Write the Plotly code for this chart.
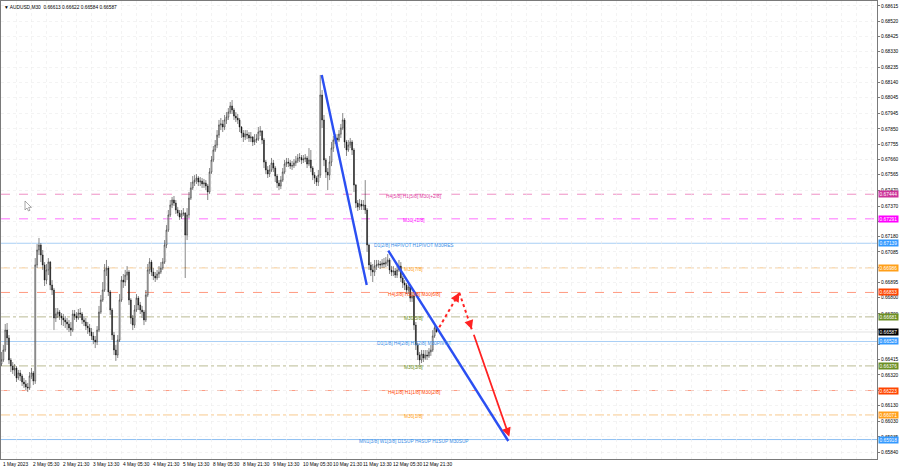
import plotly.graph_objects as go

# ---------------- data (H1 resolution, prices) ----------------
opens = [
0.66388,0.66413,0.66475,0.66599,0.66550,0.66413,0.66375,0.66351,0.66363,0.66301,
0.66332,0.66313,0.66276,0.66264,0.66245,0.66239,0.66313,0.66332,0.66282,0.67004,
0.67097,0.67128,0.67066,0.67004,0.66910,0.66973,0.67022,0.66879,0.66848,0.66674,
0.66699,0.66711,0.66686,0.66674,0.66662,0.66649,0.66637,0.66612,0.66599,0.66699,
0.66686,0.66674,0.66705,0.66699,0.66662,0.66649,0.66624,0.66612,0.66587,0.66562,
0.66537,0.66525,0.66599,0.66711,0.66786,0.66848,0.66973,0.66985,0.66836,0.66724,
0.66568,0.66475,0.66444,0.66537,0.66786,0.66910,0.66898,0.66941,0.66960,0.66786,
0.66674,0.66630,0.66724,0.66798,0.66755,0.66724,0.66711,0.66662,0.66817,0.66973,
0.67022,0.66960,0.66935,0.66923,0.66948,0.66960,0.66985,0.67022,0.67128,0.67221,
0.67315,0.67377,0.67408,0.67389,0.67346,0.67327,0.67302,0.67321,0.67327,0.67190,
0.67315,0.67420,0.67483,0.67520,0.67532,0.67545,0.67520,0.67526,0.67508,0.67514,
0.67495,0.67458,0.67582,0.67657,0.67719,0.67750,0.67812,0.67875,0.67881,0.67862,
0.67906,0.67924,0.67955,0.67993,0.67968,0.67930,0.67918,0.67906,0.67862,0.67825,
0.67800,0.67818,0.67812,0.67794,0.67800,0.67769,0.67781,0.67787,0.67831,0.67837,
0.67781,0.67644,0.67595,0.67570,0.67595,0.67638,0.67607,0.67557,0.67514,0.67495,
0.67532,0.67582,0.67632,0.67644,0.67638,0.67619,0.67622,0.67638,0.67651,0.67669,
0.67672,0.67657,0.67663,0.67669,0.67632,0.67657,0.67607,0.67563,0.67545,0.67520,
0.67563,0.68061,0.67906,0.67657,0.67582,0.67563,0.67644,0.67731,0.67781,0.67794,
0.67781,0.67818,0.67856,0.67906,0.67769,0.67719,0.67750,0.67769,0.67719,0.67501,
0.67389,0.67364,0.67383,0.67371,0.67377,0.67346,0.67128,0.67004,0.66973,0.66960,
0.66997,0.67004,0.67010,0.67004,0.67016,0.67010,0.67022,0.67035,0.66973,0.66960,
0.66966,0.66941,0.66973,0.66997,0.66923,0.66892,0.66879,0.66848,0.66867,0.66798,
0.66811,0.66630,0.66506,0.66444,0.66413,0.66450,0.66425,0.66444,0.66438,0.66463,
0.66475,0.66562,0.66613]

highs = [
0.66463,0.66506,0.66637,0.66643,0.66568,0.66425,0.66400,0.66388,0.66375,0.66351,
0.66351,0.66326,0.66301,0.66288,0.66270,0.66338,0.66363,0.66344,0.67047,0.67134,
0.67172,0.67140,0.67097,0.67022,0.67010,0.67047,0.67029,0.66910,0.66861,0.66736,
0.66736,0.66724,0.66705,0.66699,0.66686,0.66674,0.66662,0.66649,0.66724,0.66724,
0.66711,0.66730,0.66736,0.66711,0.66686,0.66674,0.66649,0.66637,0.66612,0.66587,
0.66562,0.66624,0.66749,0.66817,0.66898,0.67010,0.67035,0.66997,0.66848,0.66736,
0.66587,0.66506,0.66568,0.66823,0.66935,0.66948,0.66973,0.66997,0.66973,0.66798,
0.66693,0.66755,0.66823,0.66811,0.66774,0.66749,0.66724,0.66848,0.67010,0.67047,
0.67035,0.66985,0.66960,0.66973,0.66997,0.67022,0.67047,0.67159,0.67252,0.67346,
0.67408,0.67427,0.67433,0.67408,0.67364,0.67346,0.67346,0.67358,0.67333,0.67358,
0.67458,0.67520,0.67557,0.67563,0.67570,0.67557,0.67551,0.67545,0.67539,0.67532,
0.67508,0.67607,0.67682,0.67744,0.67781,0.67843,0.67906,0.67918,0.67906,0.67937,
0.67955,0.67980,0.68018,0.68030,0.67980,0.67955,0.67943,0.67918,0.67868,0.67843,
0.67843,0.67843,0.67831,0.67831,0.67806,0.67818,0.67818,0.67862,0.67868,0.67843,
0.67794,0.67657,0.67619,0.67626,0.67669,0.67657,0.67619,0.67570,0.67532,0.67557,
0.67607,0.67657,0.67669,0.67669,0.67657,0.67651,0.67663,0.67682,0.67694,0.67700,
0.67688,0.67688,0.67694,0.67682,0.67731,0.67719,0.67619,0.67582,0.67557,0.67595,
0.68186,0.68092,0.67937,0.67669,0.67607,0.67682,0.67769,0.67806,0.67818,0.67818,
0.67843,0.67881,0.67949,0.67918,0.67781,0.67781,0.67794,0.67781,0.67731,0.67508,
0.67408,0.67414,0.67408,0.67408,0.67532,0.67358,0.67134,0.67022,0.67010,0.67035,
0.67035,0.67035,0.67029,0.67041,0.67047,0.67053,0.67072,0.67047,0.66997,0.66997,
0.66985,0.66997,0.67035,0.67022,0.66935,0.66910,0.66892,0.66885,0.66873,0.66836,
0.66823,0.66649,0.66519,0.66463,0.66475,0.66475,0.66475,0.66475,0.66487,0.66506,
0.66599,0.66624,0.66622]

lows = [
0.66375,0.66400,0.66463,0.66506,0.66388,0.66338,0.66326,0.66313,0.66276,0.66288,
0.66282,0.66251,0.66239,0.66226,0.66214,0.66226,0.66295,0.66257,0.66264,0.66985,
0.67066,0.67022,0.66973,0.66873,0.66885,0.66941,0.66848,0.66817,0.66599,0.66649,
0.66674,0.66662,0.66630,0.66624,0.66612,0.66599,0.66587,0.66562,0.66587,0.66662,
0.66649,0.66662,0.66674,0.66637,0.66624,0.66599,0.66575,0.66562,0.66537,0.66512,
0.66487,0.66506,0.66587,0.66699,0.66774,0.66836,0.66935,0.66811,0.66693,0.66537,
0.66444,0.66407,0.66425,0.66525,0.66774,0.66861,0.66873,0.66910,0.66755,0.66637,
0.66599,0.66612,0.66711,0.66724,0.66699,0.66674,0.66630,0.66649,0.66805,0.66948,
0.66935,0.66910,0.66898,0.66910,0.66923,0.66948,0.66973,0.67010,0.67109,0.67209,
0.67302,0.67358,0.67371,0.67321,0.67308,0.67284,0.67290,0.67308,0.66923,0.67159,
0.67296,0.67408,0.67470,0.67495,0.67508,0.67495,0.67495,0.67483,0.67483,0.67470,
0.67408,0.67445,0.67570,0.67644,0.67707,0.67731,0.67794,0.67843,0.67831,0.67843,
0.67881,0.67906,0.67943,0.67943,0.67906,0.67893,0.67881,0.67831,0.67794,0.67769,
0.67781,0.67787,0.67769,0.67769,0.67744,0.67750,0.67763,0.67775,0.67806,0.67756,
0.67607,0.67570,0.67545,0.67551,0.67582,0.67582,0.67520,0.67483,0.67470,0.67476,
0.67520,0.67570,0.67613,0.67613,0.67601,0.67595,0.67607,0.67619,0.67638,0.67644,
0.67632,0.67638,0.67644,0.67607,0.67619,0.67582,0.67532,0.67508,0.67495,0.67495,
0.67545,0.67856,0.67619,0.67545,0.67470,0.67532,0.67619,0.67707,0.67756,0.67756,
0.67769,0.67794,0.67843,0.67731,0.67682,0.67707,0.67731,0.67688,0.67458,0.67358,
0.67340,0.67346,0.67346,0.67346,0.67321,0.67085,0.66973,0.66935,0.66898,0.66935,
0.66973,0.66985,0.66979,0.66985,0.66985,0.66991,0.66997,0.66948,0.66935,0.66935,
0.66923,0.66923,0.66960,0.66898,0.66861,0.66848,0.66823,0.66823,0.66774,0.66774,
0.66599,0.66475,0.66413,0.66382,0.66394,0.66400,0.66413,0.66413,0.66425,0.66438,
0.66463,0.66550,0.66584]

closes = [
0.66413,0.66475,0.66599,0.66550,0.66413,0.66375,0.66351,0.66363,0.66301,0.66332,
0.66313,0.66276,0.66264,0.66245,0.66239,0.66313,0.66332,0.66282,0.67004,0.67097,
0.67128,0.67066,0.67004,0.66910,0.66973,0.67022,0.66879,0.66848,0.66674,0.66699,
0.66711,0.66686,0.66674,0.66662,0.66649,0.66637,0.66612,0.66599,0.66699,0.66686,
0.66674,0.66705,0.66699,0.66662,0.66649,0.66624,0.66612,0.66587,0.66562,0.66537,
0.66525,0.66599,0.66711,0.66786,0.66848,0.66973,0.66985,0.66836,0.66724,0.66568,
0.66475,0.66444,0.66537,0.66786,0.66910,0.66898,0.66941,0.66960,0.66786,0.66674,
0.66630,0.66724,0.66798,0.66755,0.66724,0.66711,0.66662,0.66817,0.66973,0.67022,
0.66960,0.66935,0.66923,0.66948,0.66960,0.66985,0.67022,0.67128,0.67221,0.67315,
0.67377,0.67408,0.67389,0.67346,0.67327,0.67302,0.67321,0.67327,0.67190,0.67315,
0.67420,0.67483,0.67520,0.67532,0.67545,0.67520,0.67526,0.67508,0.67514,0.67495,
0.67458,0.67582,0.67657,0.67719,0.67750,0.67812,0.67875,0.67881,0.67862,0.67906,
0.67924,0.67955,0.67993,0.67968,0.67930,0.67918,0.67906,0.67862,0.67825,0.67800,
0.67818,0.67812,0.67794,0.67800,0.67769,0.67781,0.67787,0.67831,0.67837,0.67781,
0.67644,0.67595,0.67570,0.67595,0.67638,0.67607,0.67557,0.67514,0.67495,0.67532,
0.67582,0.67632,0.67644,0.67638,0.67619,0.67622,0.67638,0.67651,0.67669,0.67672,
0.67657,0.67663,0.67669,0.67632,0.67657,0.67607,0.67563,0.67545,0.67520,0.67563,
0.68061,0.67906,0.67657,0.67582,0.67563,0.67644,0.67731,0.67781,0.67794,0.67781,
0.67818,0.67856,0.67906,0.67769,0.67719,0.67750,0.67769,0.67719,0.67501,0.67389,
0.67364,0.67383,0.67371,0.67377,0.67346,0.67128,0.67004,0.66973,0.66960,0.66997,
0.67004,0.67010,0.67004,0.67016,0.67010,0.67022,0.67035,0.66973,0.66960,0.66966,
0.66941,0.66973,0.66997,0.66923,0.66892,0.66879,0.66848,0.66867,0.66798,0.66811,
0.66630,0.66506,0.66444,0.66413,0.66450,0.66425,0.66444,0.66438,0.66463,0.66475,
0.66562,0.66613,0.66587]

# time axis labels (M30 bar numbers)
time_tick_bars = [0, 32, 64, 96, 128, 160, 192, 224, 256, 288, 320, 352, 384, 416, 448]
time_tick_labels = ["1 May 2023", "2 May 05:30", "2 May 21:30", "3 May 13:30", "4 May 05:30",
                    "4 May 21:30", "5 May 13:30", "8 May 05:30", "8 May 21:30", "9 May 13:30",
                    "10 May 05:30", "10 May 21:30", "11 May 13:30", "12 May 05:30", "12 May 21:30"]

price_ticks = [0.65840, 0.65935, 0.66030, 0.66130, 0.66225, 0.66320, 0.66415, 0.66510, 0.66605,
               0.66700, 0.66800, 0.66895, 0.66990, 0.67085, 0.67180, 0.67275, 0.67370, 0.67470,
               0.67565, 0.67660, 0.67755, 0.67850, 0.67945, 0.68045, 0.68140, 0.68235, 0.68330,
               0.68425, 0.68520, 0.68615]
# tick labels hidden behind price boxes in the reference
hidden_ticks = [0.66225, 0.66510, 0.66605, 0.66990, 0.67275]

# Murrey levels
level_values = [0.67444, 0.67291, 0.67139, 0.66986, 0.66833, 0.66681, 0.66528, 0.66376,
                0.66223, 0.66071, 0.65918]
level_labels = ["H4[5/8] H1[5/8] M30[+2/8]", "M30[+1/8]", "D1[2/8] H4PIVOT H1PIVOT M30RES",
                "M30[7/8]", "H4[3/8] H1[3/8] M30[6/8]", "M30[5/8]", "D1[1/8] H4[2/8] H1[2/8] M30PIVOT",
                "M30[3/8]", "H4[1/8] H1[1/8] M30[2/8]", "M30[1/8]",
                "MN1[3/8] W1[3/8] D1SUP H4SUP H1SUP M30SUP"]
bid_price = 0.66587

# analyst drawings: (bar, price) pairs
trend_lines = [((342.1, 0.68186), (390.1, 0.66879)),
               ((413.1, 0.67093), (541.1, 0.65909))]
dotted_path = [(467.5, 0.66616), (488.9, 0.66831), (502.1, 0.66604)]
solid_arrow = ((503.8, 0.66579), (542.2, 0.65936))

header = "\u25bc AUDUSD,M30  0.66613 0.66622 0.66584 0.66587"

# ---------------- styles ----------------
FONT = "Liberation Sans"
FS = 4.8
lvl_text_col = ["#e0409f", "#ff00ff", "#3a8ee6", "#ff9f1a", "#ff4500", "#6b8e23", "#3a8ee6",
                "#6b8e23", "#ff4500", "#ff9f1a", "#3a8ee6"]
lvl_line_col = ["#ef8fc4", "#ff70ff", "#a9cff5", "#f8c98e", "#ff9a80", "#babb94", "#a9cff5",
                "#babb94", "#ff9a80", "#f8c98e", "#8ebff2"]
lvl_dash = ["dash", "dash", "solid", "dashdot", "dash", "dashdot", "solid", "dashdot", "dash",
            "dashdot", "solid"]
lvl_box_col = ["#cc3399", "#ff00ff", "#3399ff", "#ff9f1a", "#ff4500", "#6b8e23", "#3399ff",
               "#6b8e23", "#ff4500", "#ff9f1a", "#3399ff"]

n = len(closes)
xs = [2 * j + 0.5 for j in range(n)]

fig = go.Figure()
fig.add_trace(go.Candlestick(
    x=xs, open=opens, high=highs, low=lows, close=closes,
    increasing=dict(line=dict(color="#111111", width=0.5), fillcolor="white"),
    decreasing=dict(line=dict(color="#111111", width=0.5), fillcolor="#111111"),
    whiskerwidth=0, hoverinfo="skip", showlegend=False))

shapes = []
annotations = []
label_bar = 440.5
for v, lab, tc, lc, dsh, bc in zip(level_values, level_labels, lvl_text_col, lvl_line_col,
                                  lvl_dash, lvl_box_col):
    shapes.append(dict(type="line", xref="paper", x0=0, x1=1, yref="y", y0=v, y1=v,
                       line=dict(color=lc, width=1, dash=dsh), layer="below"))
    annotations.append(dict(x=label_bar, y=v, xref="x", yref="y", text=lab, showarrow=False,
                            xanchor="center", yanchor="middle", yshift=-2,
                            font=dict(family=FONT, size=FS, color=tc)))
    annotations.append(dict(x=1, y=v, xref="paper", yref="y", text="%.5f" % v, showarrow=False,
                            xanchor="left", yanchor="middle", xshift=1, bgcolor=bc,
                            borderpad=0.6, font=dict(family=FONT, size=FS, color="white")))
# bid line + black box
shapes.append(dict(type="line", xref="paper", x0=0, x1=1, yref="y", y0=bid_price, y1=bid_price,
                   line=dict(color="#d0d0d0", width=0.6), layer="below"))
annotations.append(dict(x=1, y=bid_price, xref="paper", yref="y", text="%.5f" % bid_price,
                        showarrow=False, xanchor="left", yanchor="middle", xshift=1,
                        bgcolor="black", borderpad=0.6,
                        font=dict(family=FONT, size=FS, color="white")))

# trend lines
for (a, b) in trend_lines:
    shapes.append(dict(type="line", xref="x", yref="y", x0=a[0], y0=a[1], x1=b[0], y1=b[1],
                       line=dict(color="#2b4ff2", width=2.4)))
# dotted red path
for i in range(len(dotted_path) - 1):
    a, b = dotted_path[i], dotted_path[i + 1]
    shapes.append(dict(type="line", xref="x", yref="y", x0=a[0], y0=a[1], x1=b[0], y1=b[1],
                       line=dict(color="#ff2222", width=2, dash="dot")))
annotations.append(dict(x=dotted_path[1][0], y=dotted_path[1][1], xref="x", yref="y", text="",
                        showarrow=True, ax=-3.5, ay=6, arrowhead=2, arrowsize=1, arrowwidth=1.8,
                        arrowcolor="#ff2222"))
annotations.append(dict(x=dotted_path[2][0], y=dotted_path[2][1], xref="x", yref="y", text="",
                        showarrow=True, ax=-2.2, ay=-6.5, arrowhead=2, arrowsize=1, arrowwidth=1.8,
                        arrowcolor="#ff2222"))
annotations.append(dict(x=solid_arrow[1][0], y=solid_arrow[1][1], xref="x", yref="y",
                        ax=solid_arrow[0][0], ay=solid_arrow[0][1], axref="x", ayref="y", text="",
                        showarrow=True, arrowhead=2, arrowsize=1, arrowwidth=1.8,
                        arrowcolor="#ff2222"))

# time labels
for b, t in zip(time_tick_bars, time_tick_labels):
    annotations.append(dict(x=b, y=0, xref="x", yref="paper", text=t, showarrow=False,
                            xanchor="left", yanchor="top", yshift=-1,
                            font=dict(family=FONT, size=FS, color="black")))
# header
annotations.append(dict(x=0, y=1, xref="paper", yref="paper", text=header, showarrow=False,
                        xanchor="left", yanchor="top", xshift=1, yshift=-2,
                        font=dict(family=FONT, size=FS, color="black")))

# mouse cursor
W, H = 876.0, 458.0
cur = [(0, 0), (0, 9), (2, 7), (3.5, 10), (5, 9.3), (3.6, 6.4), (6.4, 6.4)]
path = ""
for k, (dx, dy) in enumerate(cur):
    px = (24 + dx) / W
    py = 1 - (200 + dy) / H
    path += ("M" if k == 0 else "L") + "%.5f,%.5f " % (px, py)
path += "Z"
shapes.append(dict(type="path", xref="paper", yref="paper", path=path, fillcolor="white",
                   line=dict(color="#707070", width=0.6)))

tick_text = ["" if v in hidden_ticks else "%.5f" % v for v in price_ticks]

fig.update_layout(
    width=900, height=468, margin=dict(l=1, r=23, t=1, b=9, autoexpand=False),
    paper_bgcolor="white", plot_bgcolor="white",
    shapes=shapes, annotations=annotations, showlegend=False,
    xaxis=dict(range=[0, 934.4], rangeslider=dict(visible=False), tickmode="array",
               tickvals=list(range(0, 934, 16)), showticklabels=False, ticks="",
               showgrid=True, gridcolor="#ebebeb", griddash="dot", gridwidth=0.6,
               zeroline=False, showline=True, linecolor="#7a7a7a", linewidth=1, mirror=True),
    yaxis=dict(range=[0.65797, 0.68646], side="right", tickmode="array", tickvals=price_ticks,
               ticktext=tick_text, tickfont=dict(family=FONT, size=FS, color="black"),
               ticks="outside", ticklen=2, tickcolor="#7a7a7a",
               showgrid=True, gridcolor="#ebebeb", griddash="dot", gridwidth=0.6,
               zeroline=False, showline=True, linecolor="#7a7a7a", linewidth=1, mirror=True),
)

fig.write_html("out.html", config={"displayModeBar": False, "staticPlot": True},
               post_script="document.body.style.margin='0px';")
